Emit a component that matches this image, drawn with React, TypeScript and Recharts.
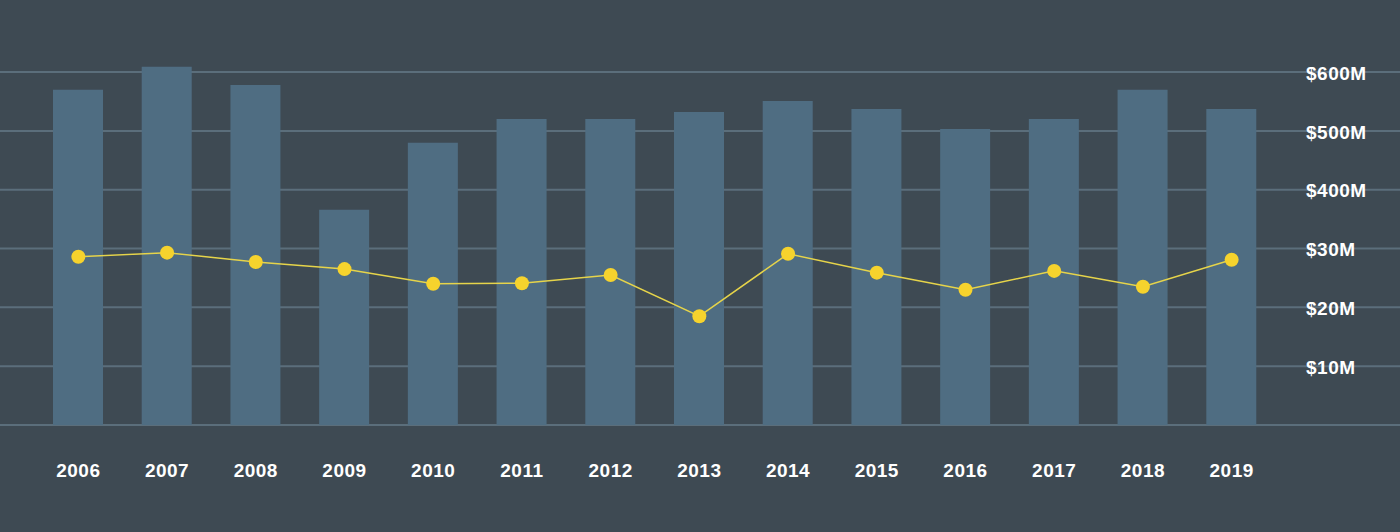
import React from 'react'
import { ComposedChart, Bar, Line, XAxis, YAxis, CartesianGrid } from 'recharts'

// fiscal years shown on the x axis
const years = ['2006', '2007', '2008', '2009', '2010', '2011', '2012', '2013', '2014', '2015', '2016', '2017', '2018', '2019']

// bars, in $M (read against the $400M–$600M gridlines)
const revenue = [570, 609, 578, 366, 480, 520, 520, 532, 551, 537, 503, 520, 570, 537]

// line, in $M (read against the $10M–$30M gridlines)
const profit = [28.6, 29.3, 27.7, 26.5, 24.0, 24.1, 25.5, 18.5, 29.1, 25.9, 23.0, 26.2, 23.5, 28.1]

// right-hand labels, as printed (the axis mixes two scales)
const yTicks = [0, 100, 200, 300, 400, 500, 600]
const yTickLabels = ['', '$10M', '$20M', '$30M', '$400M', '$500M', '$600M']

const BG = '#3e4a53'
const BAR = '#4f6d82'
const GRID = '#5b6e7b'
const YELLOW = '#f6d32d'

const labelStyle = {
  fill: '#ffffff',
  fontSize: 19,
  fontWeight: 700,
  fontFamily: '"Liberation Sans", Arial, sans-serif',
  letterSpacing: 0.5,
}

export default function App() {
  const data = years.map((year, i) => ({
    year,
    revenue: revenue[i],
    profit: profit[i],
  }))

  return (
    <div style={{ position: 'absolute', left: 0, top: 0, width: 1400, height: 532, background: BG }}>
      <ComposedChart
        width={1400}
        height={532}
        data={data}
        margin={{ top: 65, right: 0, left: 0, bottom: 0 }}
        barCategoryGap={0}
      >
        <CartesianGrid yAxisId="bars" vertical={false} horizontalValues={yTicks} stroke={GRID} strokeWidth={2} />
        <XAxis
          dataKey="year"
          height={107}
          padding={{ left: 34, right: 124 }}
          axisLine={false}
          tickLine={false}
          tickMargin={33}
          tick={labelStyle}
          interval={0}
        />
        <YAxis
          yAxisId="bars"
          orientation="right"
          mirror
          domain={[0, 612]}
          ticks={yTicks}
          interval={0}
          axisLine={false}
          tickLine={false}
          tickMargin={88}
          tick={{ ...labelStyle, textAnchor: 'start', dy: 1 }}
          tickFormatter={(v: number) => yTickLabels[yTicks.indexOf(v)]}
        />
        <YAxis yAxisId="line" hide domain={[0, 61.2]} />
        <Bar yAxisId="bars" dataKey="revenue" fill={BAR} barSize={50} isAnimationActive={false} />
        <Line
          yAxisId="line"
          type="linear"
          dataKey="profit"
          stroke="#e6d44a"
          strokeWidth={1.5}
          dot={{ r: 7, fill: YELLOW, stroke: 'none' }}
          activeDot={false}
          isAnimationActive={false}
        />
      </ComposedChart>
    </div>
  )
}
